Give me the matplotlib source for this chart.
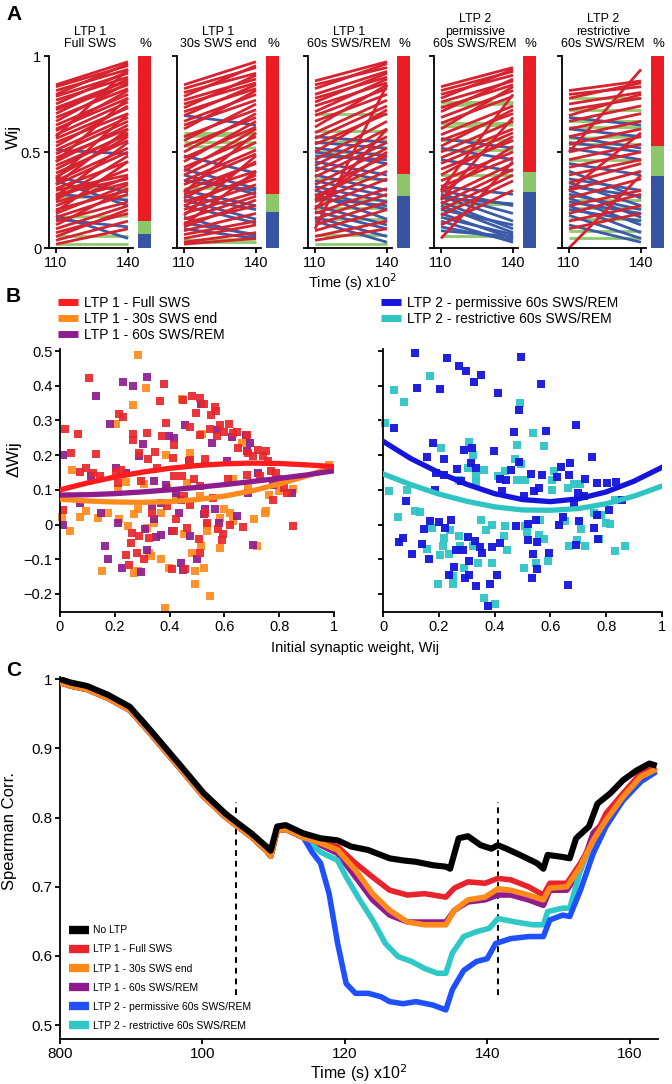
import matplotlib
matplotlib.use("Agg")
import matplotlib.pyplot as plt
from matplotlib import font_manager
from matplotlib.lines import Line2D

plt.rcParams['font.family'] = ['Liberation Sans', 'DejaVu Sans']
installed = {f.name for f in font_manager.fontManager.ttflist}
narrow = 'Liberation Sans Narrow' if 'Liberation Sans Narrow' in installed else 'Liberation Sans'

W, H = 672, 1084

# ---------------- panel A data: (w at 110, w at 140) ----------------
a_titles = ['LTP 1\nFull SWS', 'LTP 1\n30s SWS end', 'LTP 1\n60s SWS/REM',
            'LTP 2\npermissive\n60s SWS/REM', 'LTP 2\nrestrictive\n60s SWS/REM']

lines_full = [(0.85, 0.97), (0.84, 0.95), (0.82, 0.93), (0.80, 0.96), (0.79, 0.91), (0.77, 0.89),
              (0.75, 0.92), (0.73, 0.87), (0.72, 0.85), (0.70, 0.88), (0.68, 0.83), (0.66, 0.86),
              (0.64, 0.80), (0.62, 0.78), (0.61, 0.82), (0.59, 0.76), (0.57, 0.73), (0.55, 0.70),
              (0.53, 0.74), (0.51, 0.68), (0.49, 0.66), (0.47, 0.62), (0.45, 0.64), (0.43, 0.59),
              (0.41, 0.60), (0.39, 0.56), (0.37, 0.58), (0.35, 0.52), (0.33, 0.50), (0.31, 0.45),
              (0.30, 0.38), (0.28, 0.36), (0.26, 0.41), (0.24, 0.34), (0.22, 0.37), (0.20, 0.30),
              (0.18, 0.33), (0.16, 0.28), (0.14, 0.24), (0.12, 0.31), (0.10, 0.22), (0.08, 0.18),
              (0.06, 0.20), (0.04, 0.14), (0.02, 0.10), (0.36, 0.70), (0.27, 0.55), (0.19, 0.45),
              (0.33, 0.62), (0.58, 0.93), (0.45, 0.78), (0.25, 0.48),
              (0.51, 0.49), (0.37, 0.29), (0.35, 0.22), (0.28, 0.25), (0.15, 0.11), (0.17, 0.05),
              (0.26, 0.27), (0.31, 0.31), (0.06, 0.06), (0.02, 0.02), (0.16, 0.165)]

lines_30s = [(0.85, 0.97), (0.83, 0.94), (0.81, 0.91), (0.79, 0.95), (0.77, 0.88), (0.75, 0.86),
             (0.73, 0.90), (0.71, 0.83), (0.69, 0.85), (0.66, 0.80), (0.64, 0.77), (0.62, 0.82),
             (0.58, 0.72), (0.56, 0.75), (0.53, 0.68), (0.50, 0.70), (0.47, 0.63), (0.45, 0.66),
             (0.42, 0.58), (0.40, 0.62), (0.38, 0.55), (0.35, 0.51), (0.33, 0.49), (0.30, 0.44),
             (0.28, 0.40), (0.26, 0.45), (0.24, 0.36), (0.22, 0.38), (0.20, 0.33), (0.18, 0.29),
             (0.15, 0.27), (0.13, 0.22), (0.11, 0.25), (0.09, 0.18), (0.07, 0.14), (0.05, 0.12),
             (0.03, 0.08), (0.02, 0.05), (0.29, 0.60), (0.17, 0.48), (0.12, 0.40),
             (0.69, 0.64), (0.48, 0.39), (0.41, 0.31), (0.38, 0.28), (0.30, 0.22), (0.27, 0.20),
             (0.25, 0.15), (0.22, 0.13), (0.16, 0.06), (0.13, 0.07), (0.10, 0.05), (0.35, 0.30),
             (0.60, 0.60), (0.58, 0.59), (0.55, 0.55), (0.53, 0.52), (0.31, 0.31), (0.03, 0.03),
             (0.04, 0.045)]

lines_60s = [(0.87, 0.97), (0.85, 0.94), (0.83, 0.96), (0.80, 0.92), (0.78, 0.89), (0.76, 0.91),
             (0.74, 0.86), (0.71, 0.88), (0.69, 0.83), (0.66, 0.80), (0.63, 0.85), (0.60, 0.77),
             (0.57, 0.74), (0.54, 0.70), (0.50, 0.72), (0.46, 0.66), (0.43, 0.62), (0.40, 0.58),
             (0.37, 0.55), (0.33, 0.52), (0.30, 0.48), (0.27, 0.44), (0.24, 0.40), (0.21, 0.36),
             (0.18, 0.31), (0.15, 0.28), (0.12, 0.24), (0.09, 0.20), (0.06, 0.14), (0.04, 0.10),
             (0.10, 0.85), (0.20, 0.62), (0.25, 0.50),
             (0.58, 0.55), (0.55, 0.52), (0.52, 0.48), (0.50, 0.44), (0.48, 0.46), (0.45, 0.38),
             (0.42, 0.35), (0.38, 0.30), (0.35, 0.27), (0.32, 0.24), (0.30, 0.20), (0.28, 0.15),
             (0.26, 0.22), (0.22, 0.12), (0.19, 0.10), (0.16, 0.06), (0.14, 0.03),
             (0.70, 0.70), (0.61, 0.61), (0.55, 0.56), (0.50, 0.49), (0.36, 0.36), (0.25, 0.25),
             (0.21, 0.21), (0.15, 0.15), (0.07, 0.07), (0.02, 0.02)]

lines_perm = [(0.84, 0.94), (0.82, 0.92), (0.80, 0.90), (0.78, 0.93), (0.76, 0.87), (0.73, 0.85),
              (0.71, 0.88), (0.68, 0.82), (0.65, 0.79), (0.62, 0.84), (0.59, 0.74), (0.56, 0.70),
              (0.53, 0.72), (0.50, 0.66), (0.47, 0.62), (0.44, 0.60), (0.41, 0.56), (0.38, 0.58),
              (0.35, 0.50), (0.32, 0.47), (0.29, 0.53), (0.26, 0.44), (0.23, 0.41), (0.20, 0.38),
              (0.17, 0.35), (0.05, 0.45), (0.12, 0.30), (0.25, 0.68), (0.30, 0.80),
              (0.57, 0.52), (0.52, 0.46), (0.46, 0.40), (0.32, 0.28), (0.30, 0.22), (0.28, 0.18),
              (0.27, 0.14), (0.26, 0.23), (0.24, 0.10), (0.22, 0.08), (0.20, 0.12), (0.18, 0.05),
              (0.16, 0.07), (0.14, 0.03), (0.11, 0.04), (0.09, 0.06),
              (0.76, 0.76), (0.74, 0.75), (0.65, 0.65), (0.63, 0.64), (0.56, 0.56), (0.51, 0.51),
              (0.38, 0.38), (0.23, 0.23), (0.06, 0.06)]

lines_restr = [(0.82, 0.87), (0.80, 0.84), (0.78, 0.86), (0.75, 0.81), (0.72, 0.78), (0.69, 0.80),
               (0.66, 0.74), (0.62, 0.70), (0.58, 0.66), (0.54, 0.62), (0.50, 0.58), (0.46, 0.54),
               (0.42, 0.50), (0.38, 0.46), (0.34, 0.44), (0.30, 0.40), (0.26, 0.36), (0.22, 0.30),
               (0.18, 0.28), (0.14, 0.22), (0.10, 0.18), (0.0, 0.38), (0.50, 0.93), (0.30, 0.60),
               (0.68, 0.64), (0.62, 0.58), (0.58, 0.52), (0.55, 0.50), (0.52, 0.46), (0.44, 0.38),
               (0.40, 0.26), (0.36, 0.30), (0.34, 0.22), (0.32, 0.27), (0.30, 0.16), (0.28, 0.20),
               (0.26, 0.12), (0.24, 0.18), (0.22, 0.08), (0.20, 0.14), (0.17, 0.05), (0.12, 0.03),
               (0.78, 0.78), (0.72, 0.72), (0.66, 0.66), (0.63, 0.63), (0.57, 0.58), (0.54, 0.54),
               (0.46, 0.46), (0.25, 0.25), (0.21, 0.21), (0.15, 0.15), (0.09, 0.09), (0.05, 0.05)]

a_lines = [lines_full, lines_30s, lines_60s, lines_perm, lines_restr]

# fractions (depressed, unchanged, potentiated) for the % bars
pct_blue = [0.074, 0.186, 0.272, 0.290, 0.376]
pct_green = [0.069, 0.093, 0.116, 0.107, 0.155]
pct_red = [0.857, 0.721, 0.612, 0.603, 0.469]

# ---------------- panel B data: (initial w, delta w) ----------------
pts_full = [(0.02, 0.276), (0.04, 0.205), (0.064, 0.261), (0.106, 0.421), (0.133, 0.204), (0.072, 0.151),
            (0.096, 0.163), (0.12, 0.149), (0.145, 0.139), (0.01, 0.041), (0.217, 0.319), (0.229, 0.311),
            (0.267, 0.262), (0.267, 0.245), (0.316, 0.264), (0.289, 0.206), (0.322, 0.19), (0.345, 0.208),
            (0.38, 0.404), (0.366, 0.356), (0.388, 0.294), (0.373, 0.254), (0.416, 0.23), (0.412, 0.192),
            (0.448, 0.359), (0.476, 0.281), (0.482, 0.369), (0.512, 0.364), (0.524, 0.347), (0.496, 0.321),
            (0.564, 0.34), (0.569, 0.328), (0.552, 0.316), (0.512, 0.257), (0.548, 0.275), (0.572, 0.254),
            (0.53, 0.189), (0.476, 0.187), (0.584, 0.288), (0.617, 0.29), (0.599, 0.268), (0.633, 0.264),
            (0.645, 0.268), (0.651, 0.221), (0.681, 0.259), (0.687, 0.206), (0.705, 0.197), (0.723, 0.216),
            (0.741, 0.197), (0.753, 0.211), (0.759, 0.182), (0.729, 0.139), (0.771, 0.153), (0.789, 0.149),
            (0.801, 0.13), (0.819, 0.106), (0.828, 0.091), (0.777, 0.072), (0.849, -0.003), (0.205, 0.151),
            (0.223, 0.158), (0.211, 0.12), (0.295, 0.125), (0.355, 0.163), (0.416, 0.139), (0.446, 0.139),
            (0.488, 0.13), (0.512, 0.111), (0.452, 0.082), (0.392, 0.053), (0.422, 0.017), (0.337, 0.034),
            (0.261, -0.023), (0.258, -0.052), (0.287, -0.033), (0.282, -0.081), (0.241, -0.089),
            (0.253, -0.117), (0.325, -0.038), (0.307, -0.099), (0.41, -0.129), (0.416, -0.019),
            (0.464, -0.009), (0.506, -0.041), (0.536, 0.005), (0.578, -0.012), (0.62, -0.002),
            (0.669, -0.006), (0.596, -0.028), (0.59, -0.045), (0.51, -0.081), (0.458, -0.127),
            (0.56, 0.077), (0.614, 0.13), (0.681, 0.144), (0.53, 0.034), (0.476, 0.055)]

pts_30s = [(0.283, 0.489), (0.313, 0.393), (0.265, 0.345), (0.205, 0.29), (0.446, 0.361), (0.52, 0.261),
           (0.476, 0.206), (0.388, 0.199), (0.045, 0.156), (0.663, 0.235), (0.678, 0.249), (0.211, 0.101),
           (0.241, 0.122), (0.008, 0.023), (0.036, -0.019), (0.072, 0.023), (0.096, 0.039), (0.139, 0.02),
           (0.175, 0.034), (0.217, 0.017), (0.247, -0.004), (0.271, 0.029), (0.283, 0.044), (0.319, -0.009),
           (0.343, 0.005), (0.37, 0.034), (0.325, -0.081), (0.331, -0.09), (0.367, -0.1), (0.398, -0.124),
           (0.283, -0.133), (0.271, -0.14), (0.153, -0.133), (0.452, -0.028), (0.482, -0.081),
           (0.516, -0.062), (0.527, -0.124), (0.494, -0.133), (0.494, -0.172), (0.548, -0.205),
           (0.536, -0.019), (0.536, 0.0), (0.584, 0.02), (0.584, -0.067), (0.599, 0.044), (0.62, 0.034),
           (0.633, 0.01), (0.707, 0.017), (0.747, 0.034), (0.753, 0.039), (0.719, -0.062), (0.763, 0.084),
           (0.801, 0.096), (0.849, 0.103), (0.982, 0.173), (0.687, 0.111), (0.633, 0.13), (0.464, 0.12),
           (0.512, 0.082), (0.422, 0.077), (0.392, 0.106), (0.307, 0.116), (0.385, -0.24)]

pts_60s = [(0.012, 0.201), (0.01, -0.001), (0.133, 0.369), (0.181, 0.29), (0.231, 0.412), (0.265, 0.398),
           (0.316, 0.426), (0.304, 0.233), (0.289, 0.197), (0.398, 0.254), (0.416, 0.249), (0.455, 0.287),
           (0.47, 0.182), (0.516, 0.347), (0.572, 0.273), (0.555, 0.235), (0.627, 0.252), (0.678, 0.259),
           (0.681, 0.211), (0.693, 0.235), (0.608, 0.182), (0.072, 0.063), (0.114, 0.139), (0.205, 0.163),
           (0.241, 0.149), (0.343, 0.125), (0.386, 0.115), (0.422, 0.091), (0.44, 0.072), (0.367, 0.061),
           (0.337, 0.053), (0.151, 0.034), (0.211, 0.005), (0.343, 0.017), (0.311, -0.014), (0.349, -0.035),
           (0.367, -0.031), (0.41, -0.019), (0.434, 0.034), (0.476, -0.033), (0.527, 0.029), (0.53, 0.044),
           (0.566, 0.045), (0.582, 0.005), (0.647, 0.026), (0.687, 0.091), (0.723, 0.149), (0.777, 0.115),
           (0.846, 0.091), (0.705, -0.058), (0.165, -0.062), (0.176, -0.1), (0.225, -0.124), (0.295, -0.136),
           (0.319, -0.073), (0.44, -0.11), (0.449, -0.131), (0.5, -0.1)]

pts_perm = [(0.114, 0.495), (0.23, 0.481), (0.271, 0.456), (0.297, 0.443), (0.35, 0.43), (0.325, 0.411),
            (0.123, 0.394), (0.206, 0.392), (0.494, 0.482), (0.566, 0.405), (0.412, 0.378), (0.489, 0.33),
            (0.038, 0.277), (0.693, 0.287), (0.468, 0.268), (0.586, 0.271), (0.178, 0.234), (0.318, 0.222),
            (0.289, 0.215), (0.397, 0.213), (0.158, 0.194), (0.218, 0.189), (0.314, 0.178), (0.486, 0.181),
            (0.265, 0.159), (0.335, 0.162), (0.639, 0.167), (0.672, 0.178), (0.75, 0.194), (0.191, 0.148),
            (0.218, 0.143), (0.46, 0.157), (0.529, 0.146), (0.571, 0.143), (0.625, 0.138), (0.667, 0.143),
            (0.421, 0.131), (0.442, 0.129), (0.724, 0.132), (0.767, 0.121), (0.804, 0.121), (0.836, 0.124),
            (0.28, 0.126), (0.185, 0.1), (0.428, 0.097), (0.541, 0.098), (0.559, 0.105), (0.698, 0.09),
            (0.722, 0.081), (0.083, 0.068), (0.507, 0.081), (0.684, 0.062), (0.81, 0.043), (0.857, 0.071),
            (0.167, 0.009), (0.2, 0.007), (0.244, 0.014), (0.547, 0.014), (0.521, 0.002), (0.476, -0.005),
            (0.63, 0.0), (0.645, 0.022), (0.704, 0.009), (0.767, 0.028), (0.755, -0.01), (0.146, -0.013),
            (0.223, -0.01), (0.073, -0.039), (0.057, -0.05), (0.138, -0.055), (0.303, -0.037),
            (0.329, -0.046), (0.419, -0.053), (0.518, -0.044), (0.551, -0.05), (0.769, -0.042),
            (0.69, -0.058), (0.103, -0.084), (0.164, -0.099), (0.262, -0.074), (0.285, -0.074),
            (0.347, -0.066), (0.389, -0.066), (0.307, -0.104), (0.356, -0.082), (0.537, -0.085),
            (0.594, -0.083), (0.255, -0.122), (0.238, -0.144), (0.309, -0.144), (0.407, -0.144),
            (0.293, -0.155), (0.553, -0.128), (0.533, -0.155), (0.335, -0.176), (0.383, -0.17),
            (0.663, -0.173), (0.377, -0.235)]

pts_restr = [(0.008, 0.293), (0.038, 0.387), (0.074, 0.354), (0.167, 0.427), (0.492, 0.351), (0.539, 0.265),
             (0.48, 0.229), (0.577, 0.226), (0.309, 0.239), (0.321, 0.2), (0.209, 0.22), (0.472, 0.189),
             (0.494, 0.174), (0.333, 0.14), (0.333, 0.122), (0.303, 0.162), (0.362, 0.157), (0.274, 0.129),
             (0.411, 0.14), (0.439, 0.153), (0.482, 0.129), (0.509, 0.129), (0.613, 0.155), (0.604, 0.1),
             (0.663, 0.105), (0.683, 0.116), (0.705, 0.117), (0.022, 0.097), (0.087, 0.1), (0.055, 0.022),
             (0.114, 0.038), (0.134, 0.036), (0.175, -0.01), (0.218, -0.039), (0.241, -0.015),
             (0.274, -0.034), (0.215, -0.063), (0.159, -0.07), (0.203, -0.089), (0.235, -0.084),
             (0.276, -0.063), (0.321, -0.063), (0.353, 0.014), (0.37, -0.015), (0.389, 0.0), (0.439, -0.005),
             (0.433, -0.034), (0.445, -0.074), (0.339, -0.11), (0.392, -0.112), (0.291, -0.125),
             (0.252, -0.147), (0.197, -0.17), (0.252, -0.171), (0.363, -0.213), (0.504, -0.126),
             (0.547, -0.11), (0.59, -0.106), (0.509, -0.005), (0.559, -0.029), (0.578, -0.042),
             (0.515, -0.021), (0.668, -0.063), (0.695, -0.044), (0.724, -0.063), (0.755, 0.033),
             (0.78, 0.028), (0.798, 0.004), (0.814, 0.001), (0.833, -0.077), (0.867, -0.063), (0.833, 0.071),
             (0.651, 0.009), (0.563, 0.014), (0.604, 0.129), (0.774, -0.042), (0.71, -0.013), (0.40, -0.228)]

fit_x = [0.0, 0.1, 0.2, 0.3, 0.4, 0.5, 0.6, 0.7, 0.8, 0.9, 1.0]
fit_full = [0.100, 0.120, 0.137, 0.151, 0.162, 0.170, 0.175, 0.177, 0.176, 0.172, 0.167]
fit_30s = [0.073, 0.068, 0.065, 0.064, 0.066, 0.072, 0.082, 0.097, 0.117, 0.140, 0.167]
fit_60s = [0.085, 0.086, 0.089, 0.094, 0.100, 0.107, 0.115, 0.124, 0.133, 0.143, 0.155]
fit_perm = [0.240, 0.190, 0.150, 0.116, 0.089, 0.072, 0.066, 0.074, 0.094, 0.125, 0.165]
fit_restr = [0.146, 0.115, 0.088, 0.067, 0.051, 0.042, 0.041, 0.046, 0.060, 0.082, 0.111]

# ---------------- panel C data (time in units of 100 s) ----------------
t_nol = [80, 81.5, 83.8, 86.8, 89.8, 92.3, 94.7, 97.1, 100.2, 103.2, 104.7, 106.9, 109.0, 109.6,
         110.5, 111.7, 114.2, 116.6, 119.0, 120.9, 123.3, 126.3, 128.2, 130.0, 132.4, 134.2, 134.8,
         136.0, 137.3, 139.1, 140.6, 141.5, 142.7, 144.6, 147.0, 147.9, 148.5, 150.6, 151.6, 152.5,
         154.3, 155.5, 157.3, 159.1, 161.0, 162.8, 163.4]
c_nol = [1.0, 0.995, 0.99, 0.977, 0.96, 0.931, 0.902, 0.873, 0.835, 0.806, 0.794, 0.777, 0.758, 0.752,
         0.787, 0.789, 0.777, 0.770, 0.767, 0.758, 0.753, 0.741, 0.738, 0.736, 0.731, 0.729, 0.726,
         0.770, 0.773, 0.760, 0.755, 0.760, 0.755, 0.746, 0.734, 0.726, 0.746, 0.743, 0.741, 0.770,
         0.787, 0.820, 0.835, 0.854, 0.868, 0.878, 0.876]

t_early = [80, 81.5, 83.8, 86.8, 89.8, 92.3, 94.7, 97.1, 100.2, 103.2, 104.7, 106.9, 109.0, 109.6,
           110.5, 111.7, 114.2]
c_early = [0.995, 0.99, 0.985, 0.972, 0.955, 0.926, 0.897, 0.868, 0.83, 0.801, 0.789, 0.772, 0.752,
           0.744, 0.781, 0.783, 0.771]

t_late = [116.6, 119.0, 121.5, 123.9, 126.3, 128.8, 131.2, 134.2, 135.4, 137.3, 139.7, 141.5, 143.3,
          145.8, 147.9, 148.8, 151.2, 153.1, 154.9, 156.7, 159.1, 161.6, 163.4]
c_full = [0.763, 0.758, 0.734, 0.714, 0.695, 0.688, 0.690, 0.685, 0.698, 0.707, 0.705, 0.712, 0.710,
          0.700, 0.688, 0.705, 0.705, 0.734, 0.767, 0.806, 0.835, 0.864, 0.871]
c_30s = [0.763, 0.753, 0.724, 0.690, 0.666, 0.649, 0.645, 0.645, 0.666, 0.681, 0.685, 0.697, 0.695,
         0.688, 0.681, 0.698, 0.700, 0.729, 0.767, 0.796, 0.830, 0.859, 0.868]
c_60s = [0.760, 0.748, 0.714, 0.681, 0.659, 0.649, 0.649, 0.649, 0.666, 0.678, 0.681, 0.688, 0.688,
         0.681, 0.673, 0.695, 0.695, 0.724, 0.778, 0.796, 0.825, 0.854, 0.866]

t_restr = [116.6, 119.0, 120.2, 122.1, 123.9, 125.7, 127.5, 129.4, 131.2, 133.0, 134.2, 135.1, 136.7,
           138.5, 140.3, 141.5, 144.0, 146.4, 147.9, 148.5, 150.6, 151.6, 153.1, 154.9, 156.7, 159.1,
           161.6, 163.4]
c_restr = [0.750, 0.738, 0.714, 0.681, 0.652, 0.618, 0.599, 0.592, 0.582, 0.575, 0.575, 0.604, 0.628,
           0.635, 0.640, 0.654, 0.649, 0.645, 0.645, 0.664, 0.669, 0.669, 0.724, 0.767, 0.791, 0.825,
           0.852, 0.864]

t_perm = [115.4, 116.6, 117.8, 119.0, 120.2, 121.5, 123.3, 125.1, 126.3, 128.2, 130.0, 132.4, 134.2,
          135.1, 136.7, 138.5, 140.0, 141.2, 143.3, 145.8, 147.9, 148.8, 150.6, 151.6, 153.1, 154.9,
          156.7, 159.1, 161.6, 163.4]
c_perm = [0.750, 0.734, 0.690, 0.618, 0.560, 0.546, 0.546, 0.541, 0.534, 0.531, 0.534, 0.529, 0.522,
          0.551, 0.579, 0.592, 0.596, 0.618, 0.625, 0.628, 0.628, 0.652, 0.659, 0.657, 0.695, 0.748,
          0.787, 0.825, 0.852, 0.864]

dash_times = [104.7, 141.5]

RED_A, BLUE_A, GREEN_A = '#d7232f', '#3b5ba8', '#8fc96b'
BAR_RED, BAR_GREEN, BAR_BLUE = '#ec1c24', '#8dc66a', '#3953a4'


def px_axes(fig, left, top, right, bottom):
    return fig.add_axes([left / W, 1 - bottom / H, (right - left) / W, (bottom - top) / H])


def style_axes(ax, lw=1.3):
    for s in ['top', 'right']:
        ax.spines[s].set_visible(False)
    for s in ['left', 'bottom']:
        ax.spines[s].set_linewidth(lw)
    ax.tick_params(direction='out', length=3.5, width=lw, pad=2)


fig = plt.figure(figsize=(W / 100, H / 100), dpi=100)

# ---------------- A ----------------
tick110 = [56, 184, 315, 441, 569]
for i, t in enumerate(tick110):
    ax = px_axes(fig, t - 7.2, 56, t + 76.8, 248)
    style_axes(ax)
    ax.set_xlim(107, 142)
    ax.set_ylim(0, 1)
    reds = [p for p in a_lines[i] if p[1] - p[0] > 0.015]
    blues = [p for p in a_lines[i] if p[1] - p[0] < -0.015]
    greens = [p for p in a_lines[i] if abs(p[1] - p[0]) <= 0.015]
    for group, col in [(greens, GREEN_A), (blues, BLUE_A), (reds, RED_A)]:
        for w0, w1 in group:
            ax.plot([110, 140], [w0, w1], color=col, lw=2.0, clip_on=False, solid_capstyle='butt')
    ax.set_xticks([110, 140])
    ax.set_yticks([0, 0.5, 1])
    ax.tick_params(labelsize=10.5)
    if i == 0:
        ax.set_yticklabels(['0', '0.5', '1'])
    else:
        ax.set_yticklabels([])
    fig.text((t + 34) / W, 1 - 50 / H, a_titles[i], ha='center', va='bottom', fontsize=9,
             linespacing=1.05)

    bx = px_axes(fig, t + 82, 56, t + 95, 248)
    bx.bar([0], [pct_blue[i]], width=1, color=BAR_BLUE)
    bx.bar([0], [pct_green[i]], width=1, bottom=[pct_blue[i]], color=BAR_GREEN)
    bx.bar([0], [pct_red[i]], width=1, bottom=[pct_blue[i] + pct_green[i]], color=BAR_RED)
    bx.set_xlim(-0.5, 0.5)
    bx.set_ylim(0, 1)
    bx.axis('off')
    fig.text((t + 89) / W, 1 - 50 / H, '%', ha='center', va='bottom', fontsize=9.5)

fig.text(13 / W, 1 - 137 / H, 'Wij', rotation=90, ha='center', va='center', fontsize=12.5)
fig.text(352 / W, 1 - 282 / H, 'Time (s) x10$^{2}$', ha='center', va='center', fontsize=10.5)
fig.text(6 / W, 1 - 14 / H, 'A', fontsize=15, fontweight='bold', va='center')

# ---------------- B ----------------
b_left = px_axes(fig, 60, 349.3, 334, 612)
b_right = px_axes(fig, 383, 349.3, 662, 612)
for ax in (b_left, b_right):
    style_axes(ax)
    ax.set_xlim(0, 1)
    ax.set_ylim(-0.252, 0.505)
    ax.set_xticks([0, 0.2, 0.4, 0.6, 0.8, 1])
    ax.set_xticklabels(['0', '0.2', '0.4', '0.6', '0.8', '1'])
    ax.set_yticks([-0.2, -0.1, 0, 0.1, 0.2, 0.3, 0.4, 0.5])
    ax.tick_params(labelsize=10.5)
b_left.set_yticklabels(['\u22120.2', '\u22120.1', '0', '0.1', '0.2', '0.3', '0.4', '0.5'])
b_right.set_yticklabels([])

C_FULL, C_30S, C_60S = '#e8262b', '#ff8a1c', '#8e1c8e'
C_PERM, C_RESTR = '#1414dc', '#2ec4c4'

for pts, col in [(pts_30s, C_30S), (pts_60s, C_60S), (pts_full, C_FULL)]:
    b_left.scatter([p[0] for p in pts], [p[1] for p in pts], s=30, marker='s', color=col,
                   linewidths=0, alpha=0.92, clip_on=False, zorder=2)
for pts, col in [(pts_restr, C_RESTR), (pts_perm, C_PERM)]:
    b_right.scatter([p[0] for p in pts], [p[1] for p in pts], s=30, marker='s', color=col,
                    linewidths=0, alpha=0.95, clip_on=False, zorder=2)

b_left.plot(fit_x, fit_30s, color=C_30S, lw=3.8, zorder=3)
b_left.plot(fit_x, fit_60s, color=C_60S, lw=3.8, zorder=3)
b_left.plot(fit_x, fit_full, color='#ff1c1c', lw=3.8, zorder=3)
b_right.plot(fit_x, fit_perm, color=C_PERM, lw=3.8, zorder=3)
b_right.plot(fit_x, fit_restr, color=C_RESTR, lw=3.8, zorder=3)


def handle(col, lw=5):
    return Line2D([], [], color=col, lw=lw, solid_capstyle='butt')


fig.legend([handle('#ff1c1c'), handle(C_30S), handle(C_60S)],
           ['LTP 1 - Full SWS', 'LTP 1 - 30s SWS end', 'LTP 1 - 60s SWS/REM'],
           loc='upper left', bbox_to_anchor=(58 / W, 1 - 296 / H), frameon=False, fontsize=10,
           handlelength=1.45, handletextpad=0.45, labelspacing=0.15, borderpad=0, borderaxespad=0)
fig.legend([handle(C_PERM), handle(C_RESTR)],
           ['LTP 2 - permissive 60s SWS/REM', 'LTP 2 - restrictive 60s SWS/REM'],
           loc='upper left', bbox_to_anchor=(381 / W, 1 - 296 / H), frameon=False, fontsize=10,
           handlelength=1.45, handletextpad=0.45, labelspacing=0.15, borderpad=0, borderaxespad=0)

fig.text(14 / W, 1 - 459 / H, '\u0394Wij', rotation=90, ha='center', va='center', fontsize=12.5)
fig.text(355 / W, 1 - 648 / H, 'Initial synaptic weight, Wij', ha='center', va='center',
         fontsize=10.5)
fig.text(6 / W, 1 - 297 / H, 'B', fontsize=15, fontweight='bold', va='center')

# ---------------- C ----------------
cx = px_axes(fig, 60, 677, 658, 1039)
style_axes(cx)
cx.set_xlim(80, 164)
cx.set_ylim(0.48, 1.003)
for tx in dash_times:
    cx.plot([tx, tx], [0.543, 0.823], color='black', lw=1.4, ls=(0, (3, 2.5)), zorder=1)

cx.plot(t_early + t_late, c_early + c_60s, color='#8e1c8e', lw=4, zorder=2)
cx.plot(t_early + t_restr, c_early + c_restr, color='#2ec8c8', lw=4, zorder=2)
cx.plot(t_early + t_perm, c_early + c_perm, color='#1f50ff', lw=4, zorder=2)
cx.plot(t_early + t_late, c_early + c_full, color='#e8232b', lw=4, zorder=3)
cx.plot(t_early + t_late, c_early + c_30s, color='#ff8a1a', lw=4, zorder=3)
cx.plot(t_nol, c_nol, color='black', lw=4.4, zorder=4)

cx.set_xticks([80, 100, 120, 140, 160])
cx.set_xticklabels(['800', '100', '120', '140', '160'])
cx.set_yticks([0.5, 0.6, 0.7, 0.8, 0.9, 1.0])
cx.set_yticklabels(['0.5', '0.6', '0.7', '0.8', '0.9', '1'])
cx.tick_params(labelsize=11)
cx.set_xlabel('Time (s) x10$^{2}$', fontsize=11.5, labelpad=1)
fig.text(10 / W, 1 - 831 / H, 'Spearman Corr.', rotation=90, ha='center', va='center',
         fontsize=12)

leg_c_cols = ['black', '#e8232b', '#ff8a1a', '#8e1c8e', '#1f50ff', '#2ec8c8']
leg_c_labels = ['No LTP', 'LTP 1 - Full SWS', 'LTP 1 - 30s SWS end', 'LTP 1 - 60s SWS/REM',
                'LTP 2 - permissive 60s SWS/REM', 'LTP 2 - restrictive 60s SWS/REM']
cx.legend([handle(c, 6) for c in leg_c_cols], leg_c_labels,
          loc='lower left', bbox_to_anchor=(69 / W, 1 - 1031 / H), bbox_transform=fig.transFigure,
          frameon=False, prop={'family': narrow, 'size': 7.5}, handlelength=1.9,
          handletextpad=0.45, labelspacing=0.88, borderpad=0, borderaxespad=0)
fig.text(6 / W, 1 - 670 / H, 'C', fontsize=15, fontweight='bold', va='center')

fig.savefig('out.png', dpi=100)
